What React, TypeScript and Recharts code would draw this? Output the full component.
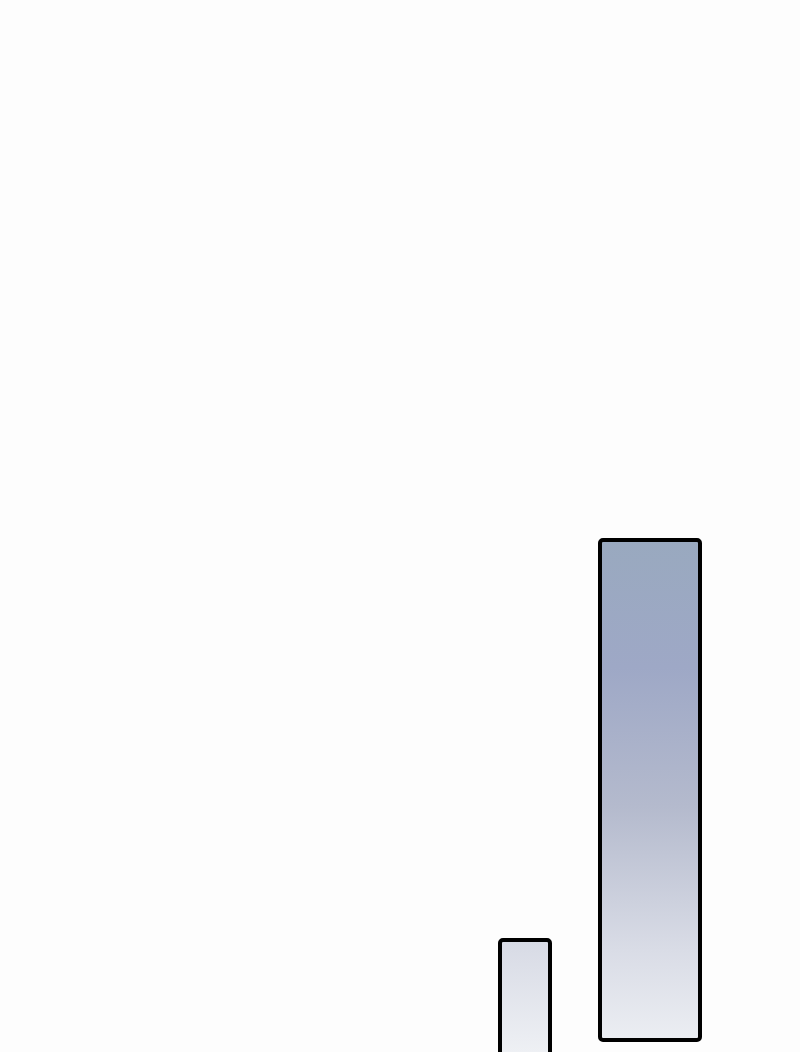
import React from 'react';
import { BarChart, Bar, XAxis, YAxis } from 'recharts';

// categories and range values (low, high) for both series
const categories = ['A', 'B'];
const narrowLow = [null, 0];
const narrowHigh = [null, 26];
const wideLow = [null, 16];
const wideHigh = [null, 66];

const chartData = categories.map((name, i) => ({
  name,
  narrow: narrowHigh[i] === null ? null : [narrowLow[i], narrowHigh[i]],
  wide: wideHigh[i] === null ? null : [wideLow[i], wideHigh[i]],
}));

const App: React.FC = () => {
  return (
    <div style={{ width: 800, height: 1052, overflow: 'hidden', background: '#fdfdfd' }}>
      <style>{'body{margin:0;overflow:hidden}'}</style>
      <BarChart
        width={800}
        height={1200}
        data={chartData}
        margin={{ top: 0, right: 0, bottom: 0, left: 0 }}
        barGap={50}
      >
        <defs>
          <linearGradient id="barFill" gradientUnits="userSpaceOnUse" x1="0" y1="540" x2="0" y2="1052">
            <stop offset="0%" stopColor="#99a9bf" />
            <stop offset="25%" stopColor="#9ea8c6" />
            <stop offset="52%" stopColor="#b4bacd" />
            <stop offset="80%" stopColor="#d9dce6" />
            <stop offset="100%" stopColor="#eef0f4" />
          </linearGradient>
        </defs>
        <XAxis dataKey="name" hide />
        <YAxis hide domain={[0, 120]} />
        <Bar
          dataKey="narrow"
          barSize={50}
          fill="url(#barFill)"
          stroke="#000"
          strokeWidth={4}
          radius={3}
          isAnimationActive={false}
        />
        <Bar
          dataKey="wide"
          barSize={100}
          fill="url(#barFill)"
          stroke="#000"
          strokeWidth={4}
          radius={3}
          isAnimationActive={false}
        />
      </BarChart>
    </div>
  );
};

export default App;
